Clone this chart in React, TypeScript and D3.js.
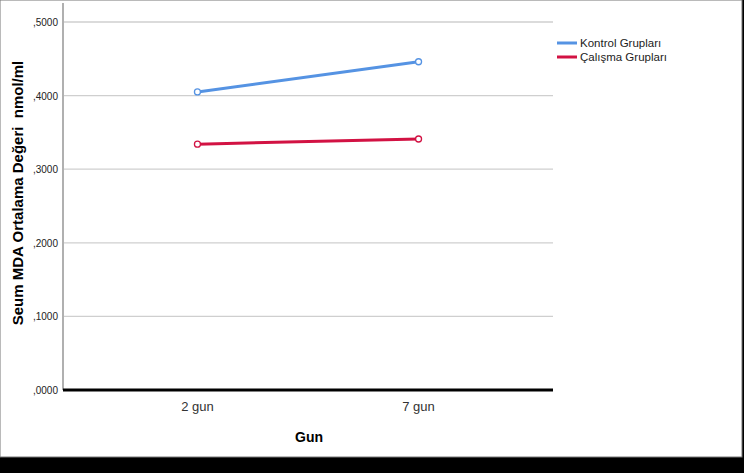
import React from "react";
import * as d3 from "d3";

const categories = ["2 gun", "7 gun"];
const kontrol = [0.405, 0.446];
const calisma = [0.334, 0.341];
const yTicks = [0, 0.1, 0.2, 0.3, 0.4, 0.5];
const seriesNames = ["Kontrol Grupları", "Çalışma Grupları"];
const seriesColors = ["#5593e3", "#d21243"];

export default function App() {
  const W = 744, H = 473;
  const left = 63, right = 553, top = 3, bottom = 390;
  const x = d3.scalePoint<string>().domain(categories).range([left, right]).padding(0.608);
  const y = d3.scaleLinear().domain([0, 0.5]).range([bottom, 22]);
  const line = d3.line<number>().x((_, i) => x(categories[i])!).y(d => y(d));
  const series = [kontrol, calisma];
  const font = "'Liberation Sans', Arial, sans-serif";
  const fmt = (v: number) => "," + (v * 10000).toFixed(0).padStart(4, "0");
  return (
    <svg width={W} height={H} style={{ position: "absolute", left: 0, top: 0 }} fontFamily={font}>
      <rect x={0} y={0} width={W} height={H} fill="#000" />
      <rect x={0} y={0} width={742} height={457} fill="#fff" stroke="#777" strokeWidth={1} />
      {yTicks.filter(t => t > 0).map(t => (
        <line key={t} x1={left} x2={right} y1={y(t)} y2={y(t)} stroke="#cfcfcf" strokeWidth={1.3} />
      ))}
      <line x1={left} x2={left} y1={top} y2={bottom} stroke="#b0b0b0" strokeWidth={2} />
      <line x1={left} x2={right} y1={bottom} y2={bottom} stroke="#000" strokeWidth={3} />
      {yTicks.map(t => (
        <text key={t} x={58} y={y(t) + 4} fontSize={10} textAnchor="end" fill="#222">{fmt(t)}</text>
      ))}
      {categories.map(c => (
        <text key={c} x={x(c)!} y={411} fontSize={13} textAnchor="middle" fill="#333">{c}</text>
      ))}
      <text x={309} y={442} fontSize={14} fontWeight="bold" textAnchor="middle" fill="#000">Gun</text>
      <text transform={`translate(23,${193}) rotate(-90)`} fontSize={15} fontWeight="bold" textAnchor="middle" fill="#000" style={{ whiteSpace: "pre" }}>Seum MDA Ortalama Değeri  nmol/ml</text>
      {series.map((s, i) => (
        <g key={i}>
          <path d={line(s)!} fill="none" stroke={seriesColors[i]} strokeWidth={3} />
          {s.map((v, j) => (
            <circle key={j} cx={x(categories[j])!} cy={y(v)} r={3} fill="#fff" stroke={seriesColors[i]} strokeWidth={1.3} />
          ))}
        </g>
      ))}
      {seriesNames.map((n, i) => (
        <g key={n}>
          <line x1={557} x2={577} y1={43 + i * 14} y2={43 + i * 14} stroke={seriesColors[i]} strokeWidth={3} />
          <text x={580} y={47 + i * 14} fontSize={11.5} fill="#222">{n}</text>
        </g>
      ))}
    </svg>
  );
}
